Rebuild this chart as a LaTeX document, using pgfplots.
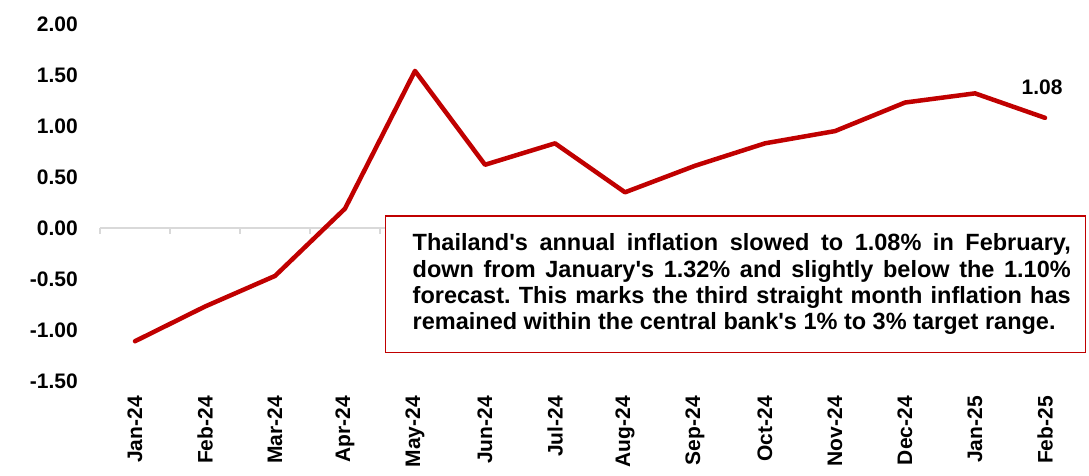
\documentclass[border=0pt]{standalone}
\usepackage{fontspec}
\setmainfont{Liberation Sans}
\newfontfamily\plainfont{Liberation Sans}
\usepackage{pgfplots}
\pgfplotsset{compat=1.18}
\definecolor{linered}{HTML}{C00000}
\definecolor{axisgray}{HTML}{D9D9D9}
\begin{document}
\frenchspacing
\begin{tikzpicture}
\begin{axis}[
  scale only axis,
  width=980pt, height=357pt,
  xmin=-0.5, xmax=13.5,
  ymin=-1.5, ymax=2,
  axis x line*=bottom, axis y line*=left,
  axis line style={draw=none},
  tick style={draw=none},
  major tick length=0pt,
  xtick={0,1,2,3,4,5,6,7,8,9,10,11,12,13},
  xticklabels={Jan-24,Feb-24,Mar-24,Apr-24,May-24,Jun-24,Jul-24,Aug-24,Sep-24,Oct-24,Nov-24,Dec-24,Jan-25,Feb-25},
  ytick={-1.5,-1,-0.5,0,0.5,1,1.5,2},
  yticklabels={-1.50,-1.00,-0.50,0.00,0.50,1.00,1.50,2.00},
  ticklabel style={font=\plainfont\fontsize{21}{25}\selectfont\bfseries, inner sep=0pt},
  xticklabel style={rotate=90, anchor=east},
  xticklabel shift=15pt,
  yticklabel style={anchor=east, xshift=-22pt},
  clip=false,
]
\draw[axisgray, line width=1.3pt] (axis cs:-0.5,0) -- (axis cs:13.5,0);
\pgfplotsinvokeforeach{-0.5,0.5,1.5,2.5,3.5,4.5,5.5,6.5,7.5,8.5,9.5,10.5,11.5,12.5,13.5}{
  \draw[axisgray, line width=1.3pt] (axis cs:#1,0) -- ++(0pt,-6pt);
}
\addplot[linered, line width=4.5pt, line join=round, line cap=round, mark=none] coordinates {
  (0,-1.11) (1,-0.77) (2,-0.47) (3,0.19) (4,1.54) (5,0.62) (6,0.83)
  (7,0.35) (8,0.61) (9,0.83) (10,0.95) (11,1.23) (12,1.32) (13,1.08)
};
\node[anchor=base, font=\plainfont\fontsize{21}{25}\selectfont\bfseries, inner sep=0pt, xshift=-3pt, yshift=23pt] at (axis cs:13,1.08) {1.08};
\node[anchor=north west, draw=linered, line width=1.5pt, fill=white,
      inner xsep=15pt, inner ysep=18pt, text width=670pt, align=justify,
      font=\plainfont\fontsize{23.5}{26.3}\selectfont\bfseries]
  at (axis cs:3.571,0.127)
  {\leftskip=12pt Thailand's annual inflation slowed to 1.08\% in February,\linebreak
   down from January's 1.32\% and slightly below the 1.10\%\linebreak
   forecast. This marks the third straight month inflation has\linebreak
   remained within the central bank's 1\% to 3\% target range.\par};
\end{axis}
\path (current axis.south west) ++(-100pt,-95pt) rectangle ++(1089pt,476pt);
\end{tikzpicture}
\end{document}
